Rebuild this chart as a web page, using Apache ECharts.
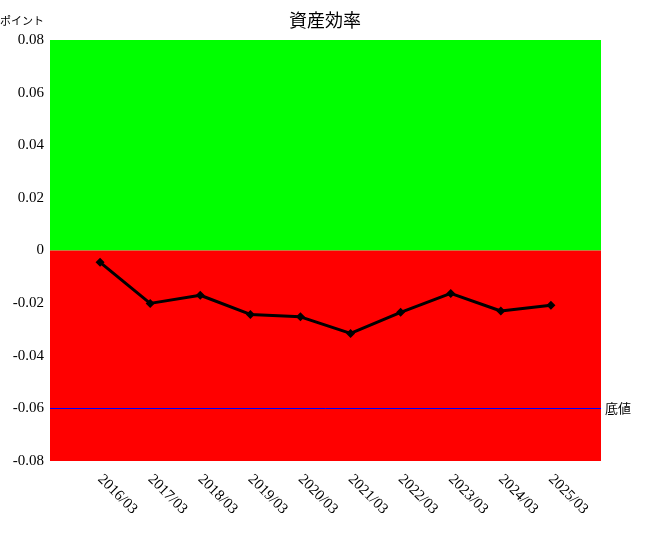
<!DOCTYPE html>
<html>
<head>
<meta charset="utf-8">
<script src="https://cdn.jsdelivr.net/npm/echarts@6/dist/echarts.min.js"></script>
<style>
  html, body { margin: 0; padding: 0; background: #fff; }
  #chart { width: 650px; height: 540px; }
</style>
</head>
<body>
<div id="chart"></div>
<script>
  // 期間(前後に空の枠を入れて、点を1枠ずつ内側に置く)
  const periods = ['2016/03', '2017/03', '2018/03', '2019/03', '2020/03',
                   '2021/03', '2022/03', '2023/03', '2024/03', '2025/03'];
  const efficiency = [-0.0045, -0.0201, -0.0170, -0.0243, -0.0252,
                      -0.0315, -0.0235, -0.0163, -0.0230, -0.0208];
  const floorValue = -0.06;
  const yTicks = { min: -0.08, max: 0.08, step: 0.02 };

  const SERIF = '"Liberation Serif", "DejaVu Serif", serif';
  const JP = '"Noto Sans CJK JP", sans-serif';
  const categories = [''].concat(periods, ['']);
  const seriesData = [null].concat(efficiency, [null]);

  const chart = echarts.init(document.getElementById('chart'));
  chart.setOption({
    animation: false,
    title: {
      text: '資産効率', left: 'center', top: 6,
      textStyle: { fontSize: 18, fontWeight: 'normal', color: '#000', fontFamily: JP },
    },
    grid: { left: 50, right: 49, top: 40, bottom: 79, containLabel: false, outerBoundsMode: 'none' },
    xAxis: {
      type: 'category', data: categories, boundaryGap: false,
      axisLine: { show: false }, axisTick: { show: false }, splitLine: { show: false },
      axisLabel: { rotate: -45, interval: 0, margin: 16, color: '#000', fontSize: 15, fontFamily: SERIF },
    },
    yAxis: {
      type: 'value', min: yTicks.min, max: yTicks.max, interval: yTicks.step,
      name: 'ポイント', nameLocation: 'end', nameGap: 14,
      nameTextStyle: { color: '#000', fontSize: 11, align: 'left', padding: [0, 0, 0, -50], fontFamily: JP },
      axisLine: { show: false }, axisTick: { show: false }, splitLine: { show: false },
      axisLabel: { color: '#000', fontSize: 15, margin: 6, fontFamily: SERIF,
        formatter: (v) => (Math.abs(v) < 1e-9 ? '0' : +v.toFixed(2) + '') },
    },
    series: [{
      type: 'line', data: seriesData, connectNulls: false,
      symbol: 'diamond', symbolSize: 9, showSymbol: true,
      lineStyle: { color: '#000', width: 3 },
      itemStyle: { color: '#000' },
      z: 5,
      markArea: {
        silent: true,
        data: [
          [{ yAxis: 0, itemStyle: { color: '#00ff00', opacity: 1 } }, { yAxis: yTicks.max }],
          [{ yAxis: yTicks.min, itemStyle: { color: '#ff0000', opacity: 1 } }, { yAxis: 0 }],
        ],
      },
      markLine: {
        silent: true, symbol: 'none',
        lineStyle: { color: '#0000ff', width: 1, type: 'solid', opacity: 1 },
        label: { show: true, position: 'end', formatter: '底値', color: '#000', fontSize: 13, distance: 4,
          fontFamily: JP },
        data: [{ yAxis: floorValue }],
      },
    }],
  });
</script>
</body>
</html>
